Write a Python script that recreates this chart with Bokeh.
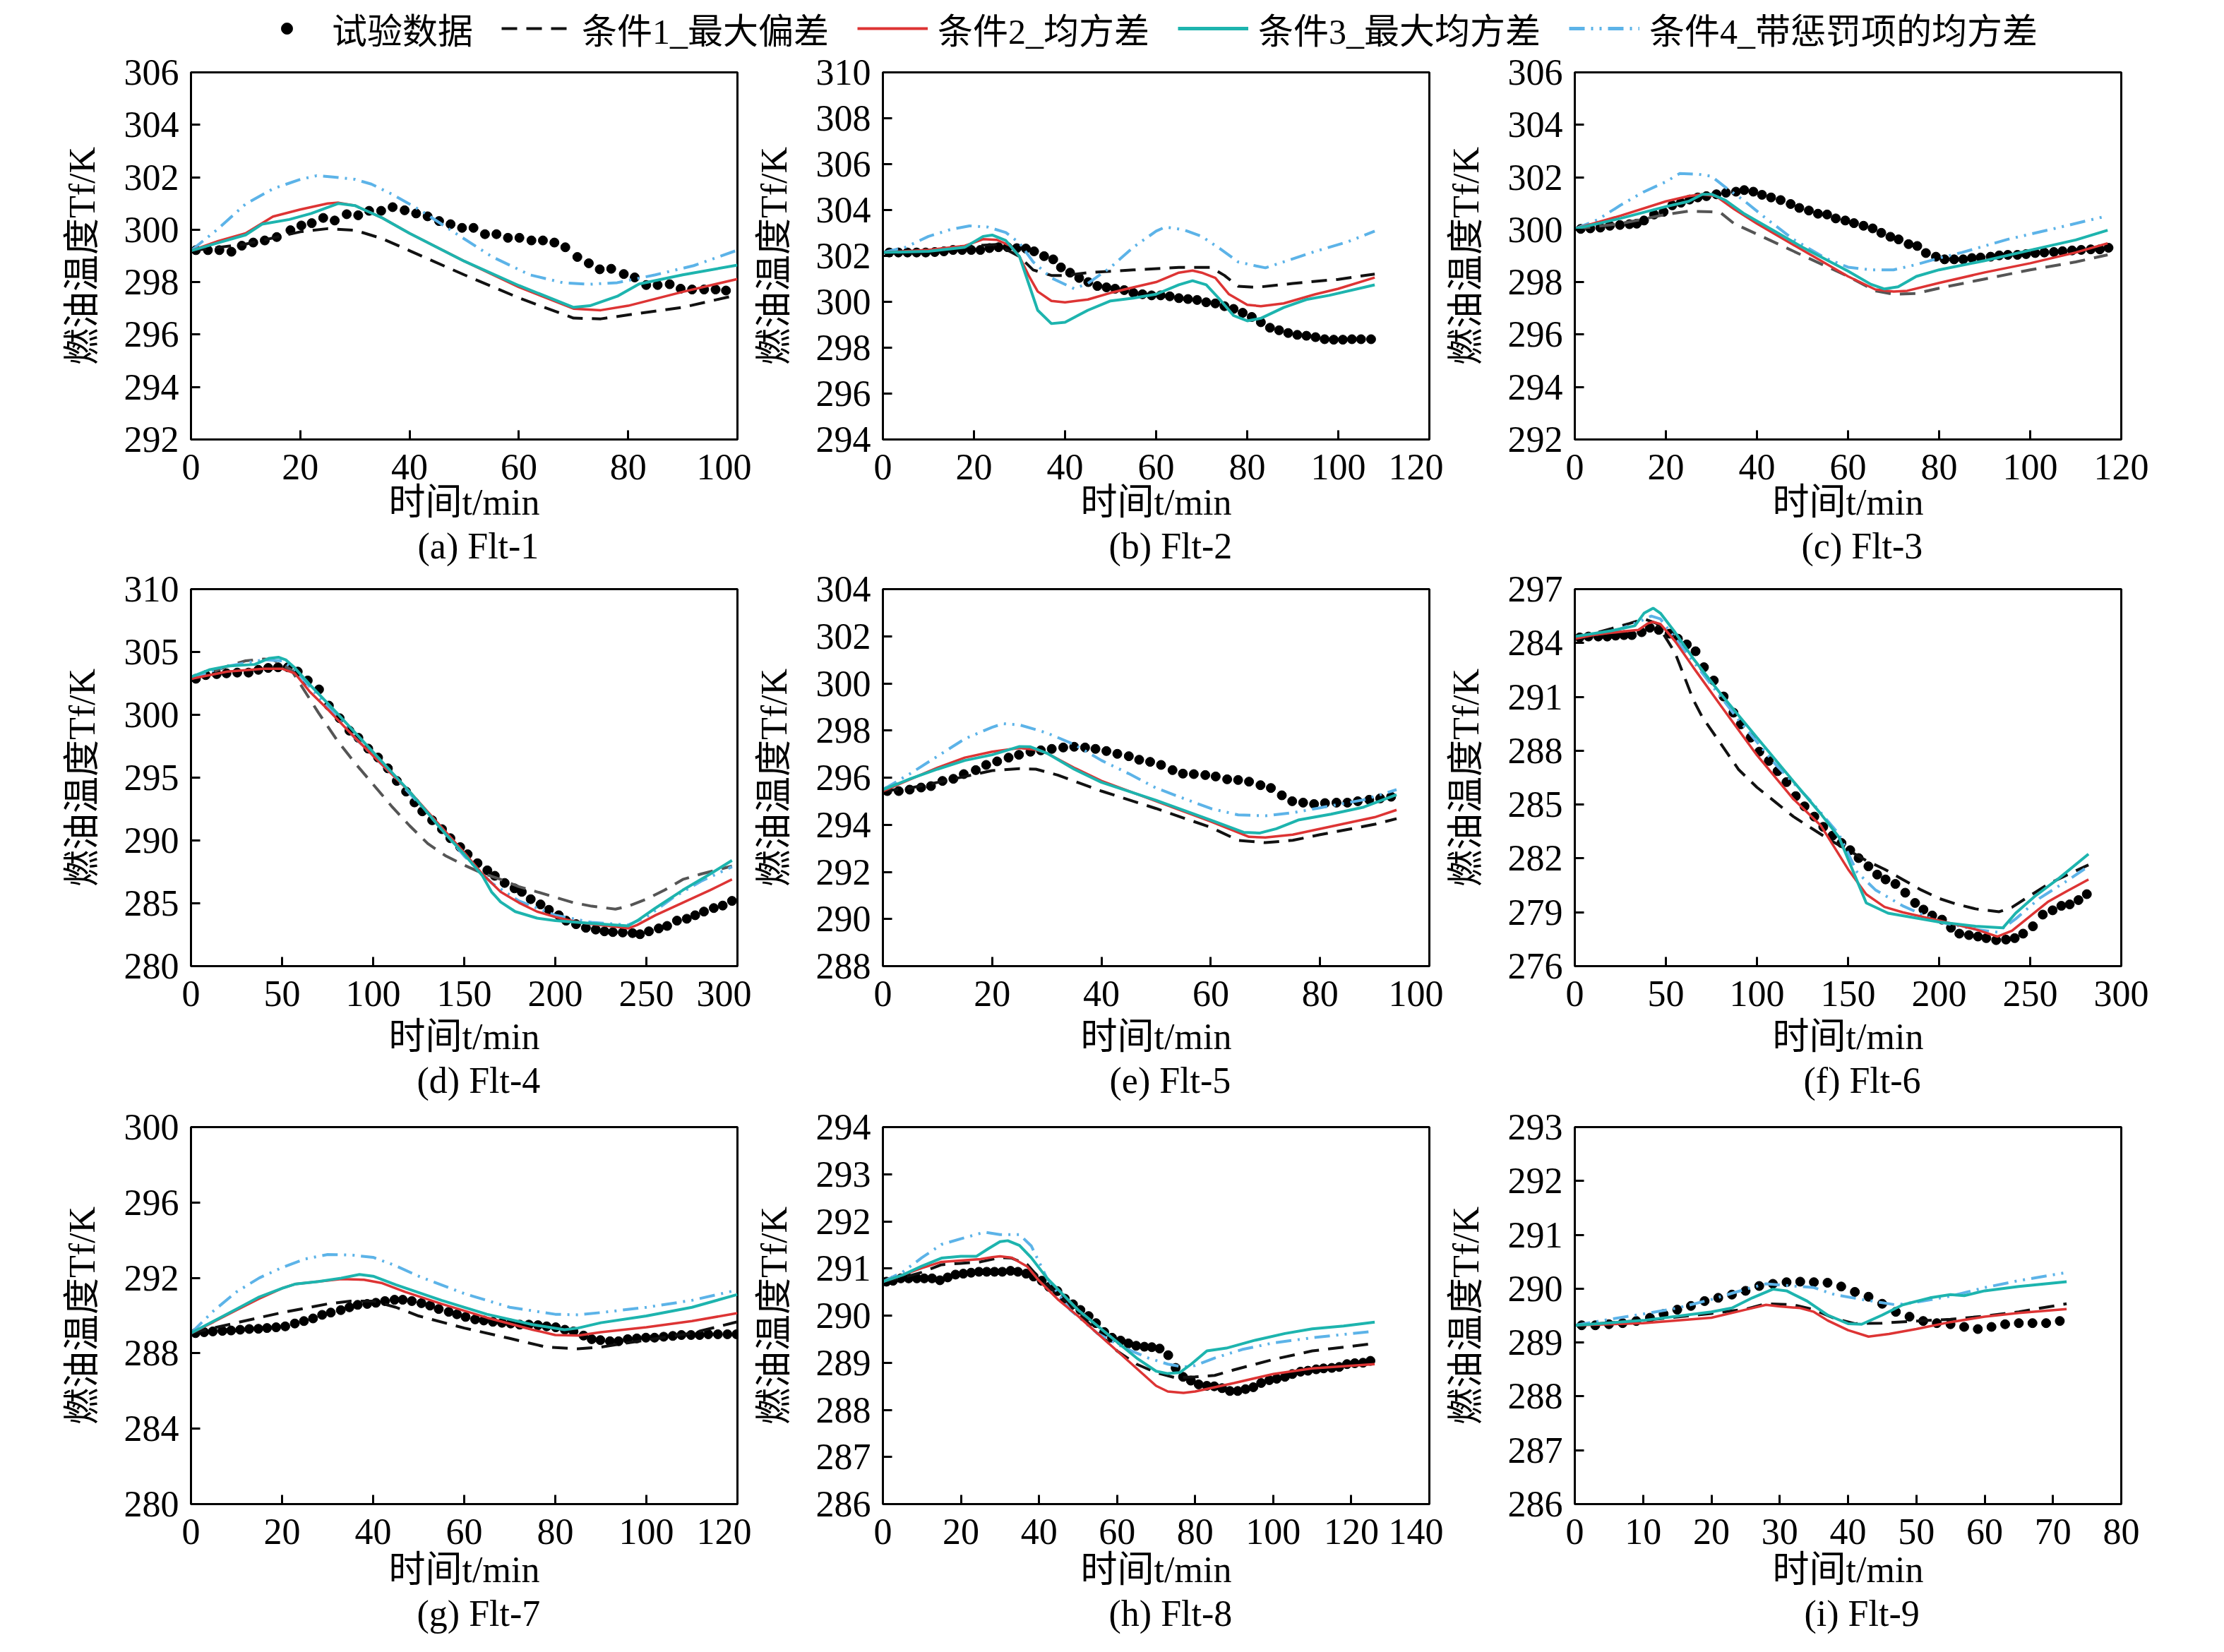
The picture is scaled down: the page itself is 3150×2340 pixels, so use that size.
from bokeh.plotting import figure
from bokeh.layouts import row, column
from bokeh.models import Range1d, FixedTicker, Title, Legend, LegendItem
from bokeh.embed import file_html
from bokeh.resources import INLINE

# ---- (a) Flt-1 ----
A_DOT_T = [0.9, 3.1, 5.2, 7.4, 9.3, 11.4, 13.5, 15.7, 18.2, 20.2, 22.1, 24.2, 26.3, 28.5, 30.6, 32.6, 34.8, 36.9, 39.1, 41.2,
           43.3, 45.4, 47.5, 49.6, 51.7, 53.8, 55.9, 58.0, 60.1, 62.3, 64.4, 66.5, 68.5, 70.7, 72.8, 74.8, 76.9, 79.2, 81.2, 83.3,
           85.4, 87.6, 89.6, 91.7, 93.9, 96.0, 97.9]
A_DOT_V = [299.22, 299.22, 299.22, 299.16, 299.39, 299.51, 299.59, 299.72, 299.98, 300.16, 300.25, 300.45, 300.35, 300.59, 300.55,
           300.72, 300.72, 300.86, 300.74, 300.62, 300.51, 300.33, 300.21, 300.07, 300.07, 299.83, 299.83, 299.69, 299.69, 299.59,
           299.59, 299.51, 299.33, 298.96, 298.72, 298.49, 298.51, 298.31, 298.18, 297.89, 297.89, 297.92, 297.75, 297.72, 297.72,
           297.72, 297.68]
A_C1_T = [0, 10, 20, 25, 30, 35, 40, 50, 60, 70, 75, 80, 90, 100]
A_C1_V = [299.2, 299.45, 299.92, 300.04, 299.98, 299.66, 299.2, 298.28, 297.4, 296.63, 296.6, 296.75, 297.04, 297.51]
A_C2_T = [0, 5, 10, 15, 20, 25, 27, 30, 35, 40, 50, 60, 70, 75, 80, 90, 100]
A_C2_V = [299.2, 299.57, 299.86, 300.5, 300.77, 301.0, 301.03, 300.92, 300.45, 299.86, 298.8, 297.81, 296.99, 296.93, 297.1, 297.63, 298.12]
A_C3_T = [0, 5, 10, 13, 18, 22, 27, 30, 35, 40, 50, 60, 70, 73, 78, 82, 90, 100]
A_C3_V = [299.2, 299.5, 299.8, 300.21, 300.39, 300.62, 301.0, 300.92, 300.45, 299.86, 298.8, 297.87, 297.04, 297.1, 297.46, 297.93, 298.28, 298.65]
A_C4_T = [0, 5, 10, 15, 20, 23, 26, 30, 33, 37, 42, 48, 55, 62, 68, 73, 78, 85, 92, 100]
A_C4_V = [299.2, 300.04, 300.98, 301.56, 301.92, 302.06, 302.01, 301.92, 301.74, 301.33, 300.74, 299.92, 298.98, 298.28, 297.98,
          297.92, 297.98, 298.28, 298.63, 299.22]

# ---- (b) Flt-2 ----
B_DOT_T = [1.4, 3.4, 5.4, 7.4, 9.4, 11.4, 13.4, 15.4, 17.4, 19.4, 21.4, 23.4, 25.4, 27.4, 29.4, 31.4, 33.2, 35.4, 37.4, 39.1,
           41.1, 43.1, 45.1, 47.1, 49.1, 51.0, 53.0, 55.0, 57.0, 59.0, 61.0, 63.0, 65.0, 67.0, 69.0, 71.0, 73.0, 75.0, 77.0, 79.0,
           81.0, 83.0, 85.0, 87.0, 89.0, 91.0, 93.0, 95.0, 97.0, 99.0, 101.0, 103.0, 105.0, 107.2]
B_DOT_V = [302.15, 302.15, 302.15, 302.15, 302.15, 302.17, 302.20, 302.26, 302.26, 302.26, 302.26, 302.34, 302.38, 302.38, 302.34,
           302.32, 302.20, 301.99, 301.85, 301.50, 301.27, 301.04, 300.86, 300.69, 300.63, 300.57, 300.51, 300.39, 300.33, 300.28,
           300.28, 300.24, 300.16, 300.12, 300.08, 299.98, 299.93, 299.81, 299.69, 299.52, 299.34, 299.11, 298.87, 298.76, 298.64,
           298.56, 298.52, 298.46, 298.37, 298.35, 298.35, 298.37, 298.37, 298.37]
B_C1_T = [0, 10, 20, 25, 30, 33, 37, 40, 45, 55, 65, 72, 75, 78, 82, 90, 100, 108]
B_C1_V = [302.15, 302.2, 302.44, 302.5, 301.97, 301.39, 301.15, 301.15, 301.27, 301.39, 301.5, 301.5, 301.15, 300.68, 300.63, 300.8,
          300.98, 301.21]
B_C2_T = [0, 10, 18, 22, 25, 28, 30, 32, 34, 37, 40, 45, 50, 55, 60, 65, 68, 70, 73, 76, 80, 83, 88, 95, 100, 108]
B_C2_V = [302.15, 302.26, 302.44, 302.73, 302.7, 302.44, 301.97, 301.15, 300.45, 300.04, 299.98, 300.1, 300.39, 300.63, 300.86,
          301.27, 301.36, 301.27, 301.04, 300.33, 299.87, 299.81, 299.93, 300.33, 300.57, 301.06]
B_C3_T = [0, 10, 18, 22, 24, 27, 30, 32, 34, 37, 40, 45, 50, 55, 60, 65, 68, 71, 74, 77, 80, 83, 88, 93, 98, 108]
B_C3_V = [302.15, 302.2, 302.38, 302.85, 302.91, 302.67, 301.97, 300.8, 299.63, 299.05, 299.11, 299.63, 300.04, 300.16, 300.33,
          300.74, 300.92, 300.74, 300.1, 299.4, 299.17, 299.28, 299.75, 300.1, 300.28, 300.74]
B_C4_T = [0, 5, 10, 15, 19, 23, 27, 30, 33, 37, 42, 45, 50, 55, 60, 62, 66, 70, 74, 78, 82, 84, 88, 95, 102, 108]
B_C4_V = [302.15, 302.38, 302.85, 303.16, 303.31, 303.26, 303.02, 302.56, 301.74, 301.04, 300.57, 300.8, 301.5, 302.38, 303.08,
          303.26, 303.14, 302.85, 302.32, 301.74, 301.56, 301.48, 301.74, 302.2, 302.61, 303.08]

# ---- (c) Flt-3 ----
C_DOT_T = [1.3, 3.4, 5.6, 7.7, 9.9, 12.0, 13.6, 15.2, 17.4, 19.5, 21.4, 23.3, 25.2, 27.0, 28.9, 31.1, 33.2, 35.4, 37.2, 39.2,
           41.1, 43.1, 45.2, 47.4, 49.3, 51.4, 53.4, 55.4, 57.3, 59.4, 61.3, 63.4, 65.4, 67.3, 69.3, 71.1, 73.3, 75.2, 77.1, 79.3,
           81.2, 83.3, 85.3, 87.2, 89.1, 91.3, 93.2, 95.1, 97.2, 99.1, 101.1, 103.1, 105.2, 107.1, 109.2, 111.2, 113.3, 115.3, 117.2]
C_DOT_V = [300.03, 300.05, 300.08, 300.15, 300.18, 300.21, 300.23, 300.35, 300.58, 300.68, 300.93, 301.03, 301.15, 301.23, 301.28,
           301.35, 301.41, 301.45, 301.51, 301.45, 301.33, 301.23, 301.13, 300.98, 300.83, 300.73, 300.61, 300.58, 300.43, 300.35,
           300.25, 300.15, 300.05, 299.88, 299.73, 299.63, 299.45, 299.38, 299.11, 298.97, 298.87, 298.87, 298.87, 298.92, 298.94,
           298.97, 299.02, 299.04, 299.04, 299.07, 299.11, 299.13, 299.15, 299.18, 299.21, 299.23, 299.25, 299.25, 299.31]
C_C1_T = [0, 10, 20, 25, 30, 32, 35, 40, 50, 60, 66, 70, 75, 80, 90, 100, 110, 117]
C_C1_V = [300.03, 300.23, 300.58, 300.71, 300.68, 300.65, 300.23, 299.83, 299.02, 298.22, 297.67, 297.54, 297.57, 297.77, 298.12,
          298.47, 298.77, 299.04]
C_C2_T = [0, 10, 20, 25, 28, 31, 35, 40, 50, 60, 66, 70, 73, 80, 90, 100, 110, 117]
C_C2_V = [300.03, 300.53, 301.08, 301.28, 301.35, 301.28, 300.78, 300.23, 299.22, 298.22, 297.72, 297.64, 297.67, 297.97, 298.37,
          298.72, 299.13, 299.48]
C_C3_T = [0, 10, 20, 25, 28, 30, 33, 37, 42, 50, 60, 65, 68, 71, 75, 80, 90, 100, 110, 117]
C_C3_V = [300.03, 300.43, 300.88, 301.08, 301.35, 301.35, 301.13, 300.63, 300.13, 299.33, 298.42, 297.92, 297.74, 297.82, 298.22,
          298.47, 298.82, 299.22, 299.61, 299.98]
C_C4_T = [0, 5, 10, 15, 20, 23, 27, 30, 33, 37, 42, 48, 55, 60, 65, 70, 75, 80, 85, 95, 105, 117]
C_C4_V = [300.03, 300.38, 300.93, 301.43, 301.83, 302.14, 302.12, 302.04, 301.63, 301.13, 300.43, 299.63, 298.92, 298.57, 298.47,
          298.47, 298.67, 298.92, 299.13, 299.63, 300.03, 300.53]

# ---- (d) Flt-4 ----
D_DOT_T = [2.7, 8.1, 14.1, 19.5, 25.4, 31.6, 37.0, 42.4, 47.8, 53.2, 58.6, 64.1, 70.3, 75.7, 81.6, 87.0, 91.9, 97.3, 102.7, 108.1,
           113.0, 118.1, 122.7, 127.0, 132.4, 137.8, 142.4, 147.8, 151.9, 157.3, 162.7, 166.8, 172.2, 177.6, 181.6, 186.5, 191.9,
           196.5, 201.9, 205.9, 211.4, 216.8, 222.2, 227.0, 231.6, 237.0, 242.4, 246.5, 251.4, 256.8, 261.4, 266.8, 272.2, 276.8,
           281.6, 287.0, 291.9, 297.0]
D_DOT_V = [302.87, 303.16, 303.24, 303.30, 303.36, 303.36, 303.58, 303.73, 303.78, 303.78, 303.44, 302.73, 302.02, 300.73, 299.73,
           298.74, 298.17, 297.31, 296.60, 295.74, 294.74, 293.89, 293.03, 292.32, 291.61, 290.90, 290.18, 289.47, 288.90, 288.19,
           287.62, 287.19, 286.62, 286.19, 285.91, 285.33, 284.91, 284.48, 284.05, 283.62, 283.34, 283.05, 282.91, 282.77, 282.71,
           282.68, 282.63, 282.54, 282.77, 283.00, 283.20, 283.62, 283.77, 284.05, 284.34, 284.62, 284.82, 285.19]
D_C1_T = [0, 10, 20, 30, 40, 45, 55, 60, 70, 80, 90, 100, 110, 120, 130, 140, 150, 160, 170, 180, 190, 200, 210, 220, 233, 240,
          250, 260, 270, 280, 297]
D_C1_V = [302.87, 303.30, 303.87, 304.30, 304.44, 304.38, 303.58, 302.44, 300.16, 298.02, 296.17, 294.46, 292.75, 291.18, 289.75,
          288.76, 288.04, 287.39, 286.90, 286.33, 285.91, 285.48, 285.05, 284.77, 284.54, 284.77, 285.33, 286.05, 286.90, 287.33,
          287.96]
D_C2_T = [0, 20, 40, 50, 57, 65, 75, 90, 105, 120, 135, 150, 160, 170, 180, 190, 200, 210, 220, 235, 240, 245, 255, 270, 285, 297]
D_C2_V = [302.87, 303.44, 303.67, 303.67, 303.30, 301.87, 300.45, 298.17, 296.03, 293.89, 291.47, 289.04, 287.33, 285.91, 285.05,
          284.34, 283.91, 283.57, 283.34, 283.11, 283.00, 283.28, 284.05, 285.05, 286.05, 286.90]
D_C3_T = [0, 10, 20, 35, 43, 48, 52, 57, 65, 80, 100, 120, 140, 150, 160, 165, 170, 178, 190, 200, 220, 240, 245, 255, 270, 285, 297]
D_C3_V = [303.01, 303.58, 303.87, 304.01, 304.50, 304.58, 304.38, 303.73, 302.44, 300.16, 297.03, 293.89, 290.47, 288.90, 287.19,
          285.91, 285.11, 284.34, 283.82, 283.62, 283.40, 283.20, 283.62, 284.62, 286.05, 287.33, 288.41]
D_C4_T = [0, 20, 40, 50, 57, 70, 90, 110, 130, 150, 165, 180, 200, 220, 240, 250, 265, 280, 297]
D_C4_V = [302.96, 303.87, 304.38, 304.30, 303.58, 301.45, 298.17, 295.32, 292.18, 288.76, 286.62, 285.19, 284.05, 283.48, 283.28,
          283.91, 285.48, 286.76, 287.90]

# ---- (e) Flt-5 ----
E_DOT_T = [0.8, 2.9, 4.9, 7.0, 8.8, 10.9, 12.9, 14.8, 17.0, 18.9, 20.9, 23.0, 24.9, 27.0, 28.9, 30.9, 33.0, 35.0, 37.0, 38.9,
           40.9, 42.9, 45.0, 46.9, 48.9, 50.9, 53.0, 54.9, 56.9, 59.0, 60.9, 63.0, 65.0, 67.0, 69.1, 71.0, 73.0, 74.9, 76.9, 78.9,
           80.9, 83.0, 85.0, 86.9, 89.0, 91.0, 93.0]
E_DOT_V = [295.43, 295.43, 295.49, 295.58, 295.64, 295.86, 295.95, 296.15, 296.32, 296.54, 296.69, 296.85, 296.97, 297.10, 297.16,
           297.22, 297.28, 297.31, 297.28, 297.22, 297.13, 297.01, 296.91, 296.76, 296.67, 296.54, 296.32, 296.17, 296.15, 296.11,
           296.05, 295.93, 295.90, 295.83, 295.68, 295.56, 295.25, 295.00, 294.94, 294.88, 294.92, 294.94, 294.94, 295.00, 295.06,
           295.12, 295.19]
E_C1_T = [0, 5, 10, 15, 20, 25, 28, 32, 40, 50, 60, 65, 70, 75, 80, 90, 94]
E_C1_V = [295.43, 295.56, 295.80, 296.05, 296.30, 296.38, 296.36, 296.11, 295.43, 294.69, 293.89, 293.34, 293.24, 293.34, 293.58,
          294.02, 294.26]
E_C2_T = [0, 5, 10, 15, 20, 25, 28, 30, 35, 40, 50, 60, 67, 70, 75, 80, 90, 94]
E_C2_V = [295.43, 295.93, 296.42, 296.85, 297.10, 297.26, 297.18, 297.04, 296.42, 295.86, 295.00, 294.14, 293.49, 293.46, 293.58,
          293.83, 294.32, 294.63]
E_C3_T = [0, 5, 10, 15, 20, 25, 27, 30, 35, 40, 50, 60, 66, 69, 72, 76, 82, 88, 94]
E_C3_V = [295.49, 295.95, 296.36, 296.73, 296.97, 297.32, 297.31, 297.04, 296.36, 295.80, 295.04, 294.20, 293.68, 293.65, 293.83,
          294.20, 294.45, 294.75, 295.28]
E_C4_T = [0, 5, 10, 15, 20, 22, 25, 30, 35, 40, 45, 50, 55, 60, 65, 70, 75, 80, 88, 94]
E_C4_V = [295.49, 296.17, 296.91, 297.65, 298.14, 298.29, 298.24, 297.90, 297.41, 296.73, 296.17, 295.56, 295.12, 294.69, 294.42,
          294.38, 294.51, 294.72, 295.06, 295.49]

# ---- (f) Flt-6 ----
F_DOT_T = [2.7, 7.5, 12.9, 17.8, 22.4, 27.0, 31.3, 36.7, 41.2, 46.1, 52.0, 56.6, 61.5, 66.3, 70.9, 76.3, 81.7, 87.1, 91.1, 96.5,
           101.3, 106.5, 111.3, 116.2, 121.3, 126.1, 131.5, 136.4, 141.5, 146.4, 151.2, 155.8, 161.2, 166.0, 170.6, 176.0, 181.4,
           186.8, 191.4, 196.2, 201.6, 206.5, 211.1, 216.4, 221.3, 225.9, 231.3, 236.7, 241.5, 246.1, 251.5, 256.9, 262.3, 267.1,
           271.7, 276.5, 281.1]
F_DOT_V = [294.31, 294.36, 294.36, 294.36, 294.41, 294.44, 294.44, 294.60, 294.85, 294.73, 294.52, 294.24, 293.92, 293.54, 292.65,
           291.91, 291.02, 290.12, 289.47, 288.73, 287.95, 287.43, 286.86, 286.25, 285.47, 284.90, 284.33, 283.76, 283.27, 282.86,
           282.46, 282.02, 281.56, 281.10, 280.83, 280.58, 280.09, 279.52, 279.15, 278.82, 278.59, 278.14, 277.81, 277.73, 277.65,
           277.56, 277.45, 277.48, 277.56, 277.81, 278.22, 278.87, 279.11, 279.36, 279.44, 279.68, 280.01]
F_C1_T = [0, 10, 20, 30, 38, 45, 50, 55, 60, 65, 70, 80, 90, 100, 110, 120, 130, 140, 150, 160, 170, 180, 190, 200, 210, 220, 233,
          240, 250, 260, 270, 282]
F_C1_V = [294.24, 294.52, 294.80, 295.09, 295.34, 295.09, 294.28, 293.46, 292.16, 290.85, 289.87, 288.41, 286.94, 285.96, 285.15,
          284.33, 283.68, 283.03, 282.46, 281.88, 281.40, 280.83, 280.25, 279.77, 279.44, 279.19, 279.03, 279.28, 279.93, 280.58,
          281.07, 281.64]
F_C2_T = [0, 10, 20, 30, 35, 40, 43, 47, 55, 65, 80, 100, 120, 135, 150, 160, 170, 180, 200, 220, 232, 240, 250, 260, 270, 282]
F_C2_V = [294.24, 294.44, 294.57, 294.68, 294.73, 295.09, 295.17, 295.06, 294.11, 292.65, 290.53, 287.75, 285.31, 283.84, 281.40,
          280.00, 279.30, 279.00, 278.54, 278.05, 277.65, 277.97, 278.79, 279.60, 280.17, 280.83]
F_C3_T = [0, 10, 20, 33, 38, 43, 47, 55, 65, 80, 100, 120, 135, 145, 153, 160, 172, 200, 220, 235, 242, 253, 266, 282]
F_C3_V = [294.36, 294.52, 294.68, 294.96, 295.66, 295.94, 295.66, 294.60, 293.14, 291.18, 288.73, 286.29, 284.49, 283.19, 281.23,
          279.52, 278.95, 278.46, 278.22, 278.13, 278.95, 279.93, 280.91, 282.24]
F_C4_T = [0, 20, 35, 42, 47, 55, 70, 90, 110, 130, 145, 155, 165, 180, 200, 220, 232, 242, 255, 270, 282]
F_C4_V = [294.31, 294.60, 295.17, 295.50, 295.34, 294.28, 292.32, 289.71, 287.26, 285.15, 283.35, 281.23, 280.25, 279.36, 278.46,
          278.05, 277.89, 278.63, 279.77, 280.74, 281.56]

# ---- (g) Flt-7 ----
G_DOT_T = [1.0, 2.9, 4.8, 6.9, 8.8, 10.8, 12.8, 14.8, 16.7, 18.7, 20.7, 22.8, 24.8, 26.8, 28.8, 30.7, 32.9, 34.8, 36.6, 38.7,
           40.6, 42.6, 44.7, 46.5, 48.5, 50.6, 52.5, 54.4, 56.6, 58.4, 60.3, 62.4, 64.3, 66.3, 68.3, 70.2, 72.2, 74.2, 76.2, 78.1,
           80.1, 82.1, 84.0, 86.2, 88.0, 89.9, 92.0, 93.9, 95.9, 97.9, 99.9, 101.8, 103.8, 105.8, 107.7, 109.8, 111.7, 113.6,
           115.7, 117.8, 119.8]
G_DOT_V = [289.07, 289.12, 289.16, 289.19, 289.21, 289.25, 289.29, 289.30, 289.34, 289.38, 289.43, 289.58, 289.71, 289.85, 290.04,
           290.16, 290.29, 290.44, 290.57, 290.62, 290.68, 290.77, 290.84, 290.84, 290.77, 290.66, 290.53, 290.35, 290.20, 290.07,
           289.93, 289.80, 289.74, 289.67, 289.62, 289.58, 289.52, 289.52, 289.49, 289.43, 289.38, 289.25, 289.16, 288.94, 288.75,
           288.70, 288.64, 288.64, 288.75, 288.79, 288.83, 288.83, 288.88, 288.92, 288.97, 288.97, 288.97, 289.01, 289.01, 289.01,
           289.01]
G_C1_T = [0, 10, 20, 30, 35, 40, 45, 50, 60, 70, 78, 85, 90, 95, 100, 110, 120]
G_C1_V = [289.07, 289.62, 290.16, 290.62, 290.77, 290.77, 290.44, 289.98, 289.34, 288.79, 288.33, 288.24, 288.33, 288.52, 288.70,
          289.07, 289.67]
G_C2_T = [0, 5, 10, 15, 20, 23, 28, 33, 38, 42, 47, 55, 65, 75, 80, 85, 90, 100, 110, 120]
G_C2_V = [289.07, 289.67, 290.29, 290.90, 291.45, 291.68, 291.81, 291.94, 291.90, 291.72, 291.26, 290.62, 289.89, 289.25, 288.97,
          288.94, 289.12, 289.38, 289.71, 290.13]
G_C3_T = [0, 5, 10, 15, 20, 23, 28, 33, 37, 40, 45, 55, 65, 75, 82, 85, 90, 100, 110, 120]
G_C3_V = [289.07, 289.71, 290.35, 290.99, 291.45, 291.68, 291.81, 291.99, 292.18, 292.09, 291.63, 290.81, 290.07, 289.52, 289.25,
          289.34, 289.62, 289.98, 290.44, 291.12]
G_C4_T = [0, 5, 10, 15, 20, 25, 30, 35, 40, 45, 50, 60, 70, 80, 85, 90, 100, 110, 120]
G_C4_V = [289.07, 290.26, 291.26, 292.00, 292.55, 293.00, 293.24, 293.22, 293.09, 292.64, 292.09, 291.17, 290.44, 290.07, 290.04,
          290.16, 290.44, 290.81, 291.36]

# ---- (h) Flt-8 ----
H_DOT_T = [0.9, 2.6, 4.6, 6.6, 8.7, 10.6, 12.6, 14.6, 16.6, 18.6, 20.6, 22.6, 24.6, 26.6, 28.6, 30.6, 32.7, 34.6, 36.7, 38.6,
           40.7, 42.6, 44.7, 46.6, 48.7, 50.6, 52.7, 54.6, 56.7, 58.7, 60.9, 62.9, 64.9, 67.0, 68.9, 70.9, 73.1, 75.0, 76.9, 78.9,
           80.9, 83.0, 84.9, 86.9, 88.9, 90.9, 92.9, 94.9, 96.9, 99.0, 100.9, 103.0, 104.9, 107.0, 108.9, 111.0, 112.9, 115.0,
           116.9, 118.9, 120.9, 123.0, 124.9]
H_DOT_V = [290.72, 290.74, 290.79, 290.79, 290.79, 290.79, 290.79, 290.75, 290.81, 290.87, 290.89, 290.91, 290.93, 290.93, 290.93,
           290.93, 290.95, 290.93, 290.89, 290.83, 290.74, 290.61, 290.52, 290.36, 290.24, 290.12, 289.99, 289.84, 289.65, 289.53,
           289.47, 289.41, 289.36, 289.34, 289.33, 289.30, 289.16, 288.89, 288.70, 288.62, 288.54, 288.51, 288.50, 288.46, 288.40,
           288.40, 288.44, 288.48, 288.57, 288.63, 288.66, 288.70, 288.76, 288.81, 288.83, 288.86, 288.88, 288.89, 288.91, 288.97,
           288.99, 289.00, 289.04]
H_C1_T = [0, 5, 10, 15, 20, 25, 30, 33, 37, 40, 45, 50, 55, 60, 65, 70, 75, 80, 85, 90, 100, 110, 126]
H_C1_V = [290.72, 290.80, 290.92, 291.08, 291.11, 291.14, 291.23, 291.22, 291.08, 290.80, 290.43, 290.06, 289.65, 289.25, 288.97,
          288.79, 288.68, 288.70, 288.73, 288.85, 289.07, 289.25, 289.41]
H_C2_T = [0, 5, 10, 15, 20, 25, 28, 30, 33, 37, 40, 45, 50, 55, 60, 65, 70, 73, 77, 80, 85, 90, 100, 110, 126]
H_C2_V = [290.72, 290.86, 291.01, 291.14, 291.17, 291.20, 291.24, 291.26, 291.23, 291.04, 290.74, 290.33, 289.99, 289.62, 289.25,
          288.88, 288.51, 288.39, 288.36, 288.39, 288.48, 288.57, 288.76, 288.88, 288.97]
H_C3_T = [0, 5, 10, 15, 20, 24, 27, 30, 32, 35, 38, 42, 50, 60, 65, 70, 73, 76, 79, 83, 88, 95, 103, 110, 118, 126]
H_C3_V = [290.72, 290.86, 291.05, 291.22, 291.26, 291.26, 291.42, 291.57, 291.59, 291.49, 291.23, 290.80, 290.12, 289.44, 289.10,
          288.82, 288.77, 288.79, 288.97, 289.25, 289.31, 289.47, 289.62, 289.72, 289.78, 289.86]
H_C4_T = [0, 5, 10, 15, 20, 26, 30, 35, 38, 42, 48, 55, 62, 68, 73, 77, 80, 85, 92, 100, 110, 126]
H_C4_V = [290.72, 290.92, 291.23, 291.51, 291.63, 291.77, 291.72, 291.72, 291.48, 290.80, 290.12, 289.62, 289.31, 289.10, 288.97,
          288.91, 288.94, 289.10, 289.28, 289.42, 289.53, 289.67]

# ---- (i) Flt-9 ----
I_DOT_T = [1, 3, 5, 7, 9, 11, 13, 15, 17, 19, 21, 23, 25, 27, 29, 31, 33, 35, 37, 39, 41, 43, 45, 47, 49, 51, 53, 55, 57, 59,
           61, 63, 65, 67, 69, 71]
I_DOT_V = [289.32, 289.32, 289.34, 289.36, 289.40, 289.46, 289.53, 289.61, 289.68, 289.77, 289.83, 289.89, 289.96, 290.05, 290.09,
           290.12, 290.13, 290.12, 290.11, 290.04, 289.94, 289.85, 289.72, 289.57, 289.48, 289.40, 289.36, 289.34, 289.29, 289.25,
           289.29, 289.34, 289.36, 289.36, 289.36, 289.40]
I_C1_T = [0, 10, 20, 25, 28, 32, 35, 38, 41, 45, 50, 55, 60, 65, 72]
I_C1_V = [289.32, 289.41, 289.54, 289.62, 289.72, 289.70, 289.61, 289.45, 289.35, 289.36, 289.40, 289.43, 289.49, 289.57, 289.72]
I_C2_T = [0, 10, 20, 25, 28, 30, 33, 35, 37, 40, 43, 46, 50, 55, 60, 65, 72]
I_C2_V = [289.32, 289.36, 289.46, 289.61, 289.70, 289.67, 289.64, 289.57, 289.41, 289.23, 289.11, 289.16, 289.25, 289.38, 289.48,
          289.55, 289.62]
I_C3_T = [0, 10, 20, 23, 26, 29, 31, 34, 37, 40, 42, 45, 48, 52, 55, 57, 60, 65, 72]
I_C3_V = [289.32, 289.41, 289.57, 289.64, 289.83, 289.99, 289.96, 289.77, 289.51, 289.35, 289.34, 289.51, 289.70, 289.83, 289.89,
          289.87, 289.96, 290.04, 290.13]
I_C4_T = [0, 5, 10, 15, 20, 25, 28, 32, 35, 38, 42, 47, 50, 55, 60, 65, 72]
I_C4_V = [289.32, 289.43, 289.53, 289.64, 289.80, 289.99, 290.09, 290.05, 290.02, 289.89, 289.80, 289.70, 289.75, 289.86, 290.02,
          290.15, 290.30]

# ---- axes of each panel ----
CAPTIONS = ["(a) Flt-1", "(b) Flt-2", "(c) Flt-3", "(d) Flt-4", "(e) Flt-5", "(f) Flt-6", "(g) Flt-7", "(h) Flt-8", "(i) Flt-9"]
X_MAX = [100, 120, 120, 300, 100, 300, 120, 140, 80]
X_STEP = [20, 20, 20, 50, 20, 50, 20, 20, 10]
Y_MIN = [292, 294, 292, 280, 288, 276, 280, 286, 286]
Y_MAX = [306, 310, 306, 310, 304, 297, 300, 294, 293]
Y_STEP = [2, 2, 2, 5, 2, 3, 4, 1, 1]
# the original figure prints "284" where 294 belongs on panel (f)
Y_OVERRIDES = [{}, {}, {}, {}, {}, {294: "284"}, {}, {}, {}]
X_TITLE = "时间t/min"
Y_TITLE = "燃油温度Tf/K"
LEGEND_LABELS = ["试验数据", "条件1_最大偏差", "条件2_均方差", "条件3_最大均方差", "条件4_带惩罚项的均方差"]

PANEL_DATA = [
    (A_DOT_T, A_DOT_V, A_C1_T, A_C1_V, A_C2_T, A_C2_V, A_C3_T, A_C3_V, A_C4_T, A_C4_V),
    (B_DOT_T, B_DOT_V, B_C1_T, B_C1_V, B_C2_T, B_C2_V, B_C3_T, B_C3_V, B_C4_T, B_C4_V),
    (C_DOT_T, C_DOT_V, C_C1_T, C_C1_V, C_C2_T, C_C2_V, C_C3_T, C_C3_V, C_C4_T, C_C4_V),
    (D_DOT_T, D_DOT_V, D_C1_T, D_C1_V, D_C2_T, D_C2_V, D_C3_T, D_C3_V, D_C4_T, D_C4_V),
    (E_DOT_T, E_DOT_V, E_C1_T, E_C1_V, E_C2_T, E_C2_V, E_C3_T, E_C3_V, E_C4_T, E_C4_V),
    (F_DOT_T, F_DOT_V, F_C1_T, F_C1_V, F_C2_T, F_C2_V, F_C3_T, F_C3_V, F_C4_T, F_C4_V),
    (G_DOT_T, G_DOT_V, G_C1_T, G_C1_V, G_C2_T, G_C2_V, G_C3_T, G_C3_V, G_C4_T, G_C4_V),
    (H_DOT_T, H_DOT_V, H_C1_T, H_C1_V, H_C2_T, H_C2_V, H_C3_T, H_C3_V, H_C4_T, H_C4_V),
    (I_DOT_T, I_DOT_V, I_C1_T, I_C1_V, I_C2_T, I_C2_V, I_C3_T, I_C3_V, I_C4_T, I_C4_V),
]

# ---- styles ----
SERIF = "Liberation Serif"
MIXED = "Liberation Serif, Noto Sans CJK SC"
RED = "#dd3434"
TEAL = "#1db4ae"
BLUE = "#5cb3e8"
C1_COLOR = ["#111111", "#111111", "#555555", "#555555", "#111111", "#111111", "#111111", "#111111", "#111111"]
DASH1 = "22 13"
DASH4 = "22 9 3 9 3 9"

FRAME_W = 774
COL_BORDER_LEFT = [270, 186, 184]
COL_BORDER_RIGHT = [20, 20, 40]
ROW_FRAME_H = [520, 534, 534]
ROW_BORDER_TOP = [29, 29, 29]
ROW_BORDER_BOTTOM = [183, 199, 194]
X_TICK_STANDOFF = 21
X_TITLE_STANDOFF = [1, 12, 5]
CAPTION_STANDOFF = [0, 0, 0]
CAPTION_SIZE = 52
LEGEND_H = 73
# advance widths (em) of the serif caption characters, used to centre the caption a little right of the frame
SERIF_EM = {"(": 0.333, ")": 0.333, " ": 0.25, "F": 0.556, "l": 0.278, "t": 0.278, "-": 0.333,
            "a": 0.444, "b": 0.5, "c": 0.444, "d": 0.5, "e": 0.444, "f": 0.333, "g": 0.5, "h": 0.5, "i": 0.278}


def pair(t, v):
    n = min(len(t), len(v))
    return list(t[:n]), list(v[:n])


def caption_offset(text):
    width = sum(SERIF_EM.get(ch, 0.5) for ch in text) * CAPTION_SIZE
    return int(round(FRAME_W / 2 + 20 - width / 2))


def make_panel(i):
    r, c = divmod(i, 3)
    xmax, ymin, ymax = X_MAX[i], Y_MIN[i], Y_MAX[i]
    p = figure(frame_width=FRAME_W, frame_height=ROW_FRAME_H[r],
               x_range=Range1d(0, xmax), y_range=Range1d(ymin, ymax),
               toolbar_location=None, output_backend="svg",
               min_border_left=COL_BORDER_LEFT[c], min_border_right=COL_BORDER_RIGHT[c],
               min_border_top=ROW_BORDER_TOP[r], min_border_bottom=ROW_BORDER_BOTTOM[r])
    p.grid.visible = False
    p.outline_line_color = "black"
    p.outline_line_width = 3

    p.xaxis.ticker = FixedTicker(ticks=list(range(0, xmax + 1, X_STEP[i])))
    p.yaxis.ticker = FixedTicker(ticks=list(range(ymin, ymax + 1, Y_STEP[i])))
    if Y_OVERRIDES[i]:
        p.yaxis.major_label_overrides = Y_OVERRIDES[i]
    for ax in (p.xaxis, p.yaxis):
        ax.axis_line_width = 3
        ax.major_tick_line_width = 3
        ax.major_tick_in = 13
        ax.major_tick_out = 0
        ax.minor_tick_line_color = None
        ax.major_label_text_font = SERIF
        ax.major_label_text_font_size = "52px"
        ax.major_label_text_color = "black"
        ax.axis_label_text_font = MIXED
        ax.axis_label_text_font_size = "52px"
        ax.axis_label_text_font_style = "normal"
        ax.axis_label_text_color = "black"
    p.xaxis.major_label_standoff = X_TICK_STANDOFF
    p.yaxis.major_label_standoff = 17
    p.xaxis.axis_label = X_TITLE
    p.yaxis.axis_label = Y_TITLE
    p.xaxis.axis_label_standoff = X_TITLE_STANDOFF[r]
    p.yaxis.axis_label_standoff = 28

    dot_t, dot_v, c1t, c1v, c2t, c2v, c3t, c3v, c4t, c4v = PANEL_DATA[i]
    x, y = pair(dot_t, dot_v)
    p.scatter(x, y, size=13, color="black")
    x, y = pair(c1t, c1v)
    p.line(x, y, line_color=C1_COLOR[i], line_width=4, line_dash=DASH1)
    x, y = pair(c4t, c4v)
    p.line(x, y, line_color=BLUE, line_width=4, line_dash=DASH4)
    x, y = pair(c2t, c2v)
    p.line(x, y, line_color=RED, line_width=3.5)
    x, y = pair(c3t, c3v)
    p.line(x, y, line_color=TEAL, line_width=4)

    p.add_layout(Title(text=CAPTIONS[i], align="left", offset=caption_offset(CAPTIONS[i]),
                       standoff=CAPTION_STANDOFF[r], text_font=SERIF,
                       text_font_size=f"{CAPTION_SIZE}px", text_font_style="normal",
                       text_color="black"), "below")
    return p


panels = [make_panel(i) for i in range(9)]

# legend strip across the top
NAN = float("nan")
total_w = sum(COL_BORDER_LEFT) + 3 * FRAME_W + sum(COL_BORDER_RIGHT)
lg = figure(width=total_w, height=LEGEND_H, x_range=Range1d(0, 1), y_range=Range1d(0, 1),
            toolbar_location=None, output_backend="svg",
            x_axis_location=None, y_axis_location=None, min_border=0)
lg.grid.visible = False
lg.outline_line_color = None
r0 = lg.scatter(x=[NAN], y=[NAN], size=13, color="black")
r1 = lg.line(x=[NAN], y=[NAN], line_color="#111111", line_width=4, line_dash=DASH1)
r2 = lg.line(x=[NAN], y=[NAN], line_color=RED, line_width=4)
r3 = lg.line(x=[NAN], y=[NAN], line_color=TEAL, line_width=5)
r4 = lg.line(x=[NAN], y=[NAN], line_color=BLUE, line_width=5, line_dash=DASH4)
legend = Legend(items=[LegendItem(label=lab, renderers=[rr]) for lab, rr in zip(LEGEND_LABELS, [r0, r1, r2, r3, r4])],
                orientation="horizontal", location=(356, -3),
                glyph_width=100, glyph_height=40, label_standoff=14, spacing=40,
                padding=0, margin=0, border_line_color=None, background_fill_alpha=0,
                label_text_font=MIXED, label_text_font_size="50px", label_text_color="black")
lg.add_layout(legend)

layout = column(lg, row(*panels[0:3]), row(*panels[3:6]), row(*panels[6:9]))

open("out.html", "w").write(file_html(layout, INLINE, title="燃油温度"))
